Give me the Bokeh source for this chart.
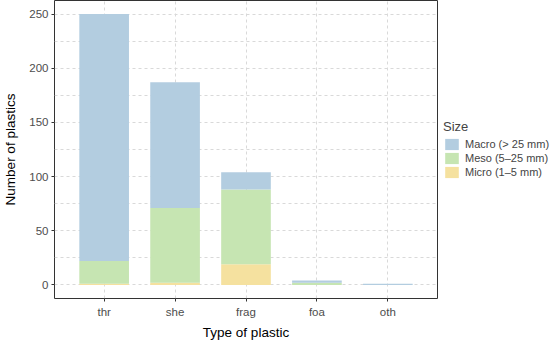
from bokeh.plotting import figure
from bokeh.models import ColumnDataSource, Legend, LegendItem, Range1d, FactorRange, FixedTicker
from bokeh.embed import file_html
from bokeh.resources import INLINE

types = ["thr", "she", "frag", "foa", "oth"]
micro = [1, 2, 19, 0, 0]
meso = [21, 69, 69, 2, 0]
macro = [228, 116, 16, 2, 1]
sizes = ["Micro", "Meso", "Macro"]
labels = {"Macro": "Macro (> 25 mm)", "Meso": "Meso (5\u201325 mm)", "Micro": "Micro (1\u20135 mm)"}
colors = {"Macro": "#B3CDE0", "Meso": "#C6E5B2", "Micro": "#F5E19F"}
yticks = [0, 50, 100, 150, 200, 250]
yminor = [25, 75, 125, 175, 225]

src = ColumnDataSource(dict(types=types, Micro=micro, Meso=meso, Macro=macro))

xr = FactorRange(factors=types, range_padding=0.2, range_padding_units="absolute", factor_padding=0)
p = figure(x_range=xr, y_range=Range1d(-12.5, 262.5),
           frame_width=383, frame_height=298, output_backend="svg", toolbar_location=None,
           min_border_left=47, min_border_top=0, min_border_bottom=0, min_border_right=0)
rs = p.vbar_stack(sizes, x="types", width=0.7, source=src,
                  color=[colors[s] for s in sizes], line_color=None)

p.outline_line_color = "#333333"
p.outline_line_width = 1
p.background_fill_color = "white"
for ax in (p.xaxis[0], p.yaxis[0]):
    ax.axis_line_color = None
    ax.major_tick_line_color = "#333333"
    ax.major_tick_in = 0
    ax.major_tick_out = 3
    ax.minor_tick_line_color = None
    ax.major_label_text_color = "#4D4D4D"
    ax.major_label_text_font = "Liberation Sans"
    ax.major_label_text_font_size = "11.5px"
    ax.axis_label_text_font = "Liberation Sans"
    ax.axis_label_text_font_size = "13.5px"
    ax.axis_label_text_font_style = "normal"
    ax.axis_label_text_color = "black"
p.yaxis.ticker = FixedTicker(ticks=yticks)
p.xaxis.axis_label = "Type of plastic"
p.yaxis.axis_label = "Number of plastics"
p.xaxis.major_label_standoff = 4
p.yaxis.major_label_standoff = 3
p.xaxis.axis_label_standoff = 4
p.yaxis.axis_label_standoff = 8

p.xgrid.grid_line_color = "#D9D9D9"
p.ygrid.grid_line_color = "#D9D9D9"
p.xgrid.grid_line_dash = "3 3"
p.ygrid.grid_line_dash = "3 3"
p.ygrid.ticker = FixedTicker(ticks=yticks + yminor)

items = [LegendItem(label=labels[s], renderers=[rs[sizes.index(s)]]) for s in ["Macro", "Meso", "Micro"]]
legend = Legend(items=items, title="Size", location="left", border_line_color=None,
                background_fill_alpha=0, label_text_font="Liberation Sans", label_text_font_size="11px",
                title_text_font="Liberation Sans", title_text_font_size="13px", title_text_font_style="normal",
                glyph_width=17, glyph_height=14, label_height=14, spacing=0, padding=3, margin=6,
                label_standoff=5, title_standoff=3)
p.add_layout(legend, "right")

open("out.html", "w").write(file_html(p, INLINE))
